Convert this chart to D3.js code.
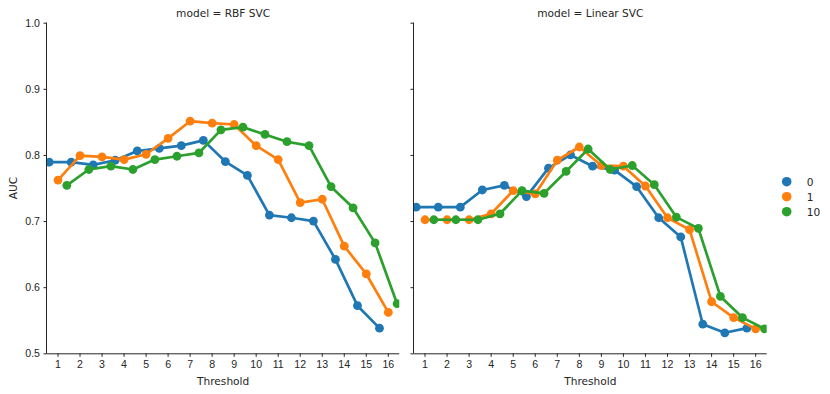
<!DOCTYPE html>
<html>
<head>
<meta charset="utf-8">
<script src="https://cdn.jsdelivr.net/npm/d3@7"></script>
<style>
  body { margin: 0; background: #fff; }
  svg { font-family: "DejaVu Sans", sans-serif; }
  .axis text { font-size: 10.6px; fill: #262626; }
  .axis path, .axis line { stroke: #262626; stroke-width: 1; }
</style>
</head>
<body>
<div class="container"></div>
<script>
// thresholds on the x axis
var thresholds = ["1","2","3","4","5","6","7","8","9","10","11","12","13","14","15","16"];
var hueLevels = ["0", "1", "10"];
var models = ["RBF SVC", "Linear SVC"];
var yTicks = [0.5, 0.6, 0.7, 0.8, 0.9, 1.0];

// AUC, RBF SVC
var rbf0  = [0.789,0.789,0.785,0.792,0.806,0.810,0.814,0.822,0.790,0.769,0.709,0.705,0.700,0.642,0.572,0.538];
var rbf1  = [0.762,0.799,0.797,0.793,0.801,0.825,0.851,0.848,0.846,0.814,0.793,0.728,0.733,0.662,0.620,0.562];
var rbf10 = [0.754,0.778,0.783,0.778,0.793,0.798,0.803,0.838,0.842,0.831,0.820,0.814,0.752,0.720,0.667,0.575];
// Linear SVC
var lin0  = [0.721,0.721,0.721,0.747,0.754,0.737,0.780,0.800,0.783,0.777,0.752,0.705,0.676,0.544,0.531,0.538];
var lin1  = [0.702,0.702,0.702,0.711,0.746,0.741,0.792,0.812,0.784,0.783,0.753,0.705,0.687,0.578,0.554,0.537];
var lin10 = [0.702,0.702,0.702,0.711,0.746,0.742,0.775,0.809,0.778,0.784,0.755,0.706,0.689,0.586,0.554,0.537];

var seriesByModel = [[rbf0, rbf1, rbf10], [lin0, lin1, lin10]];
var colors = ["#1f77b4", "#ff7f0e", "#2ca02c"];
var dodge = [-0.4, 0, 0.4];

var w = 830, h = 394;
var plotTop = 22.7, plotBottom = 353.3;
var panels = [[47, 399.3], [414, 766.7]];
var fs = 10.6;

var svg = d3.select(".container")
  .append("svg")
  .attr("width", w)
  .attr("height", h);

var yScale = d3.scaleLinear().domain([0.5, 1.0]).range([plotBottom, plotTop]);

panels.forEach(function(p, i) {
  var xScale = d3.scaleBand().domain(thresholds).range(p).padding(0);
  var bw = xScale.bandwidth();
  var g = svg.append("g");

  // clip to axes area like matplotlib
  svg.append("clipPath").attr("id", "clip" + i)
    .append("rect")
    .attr("x", p[0]).attr("y", plotTop)
    .attr("width", p[1] - p[0]).attr("height", plotBottom - plotTop);

  var plot = g.append("g").attr("clip-path", "url(#clip" + i + ")");

  seriesByModel[i].forEach(function(vals, k) {
    var pts = vals.map(function(v, j) {
      return { x: xScale(thresholds[j]) + bw / 2 + dodge[k] * bw, y: yScale(v) };
    });
    var line = d3.line().x(function(d) { return d.x; }).y(function(d) { return d.y; });
    plot.append("path")
      .datum(pts)
      .attr("d", line)
      .attr("fill", "none")
      .attr("stroke", colors[k])
      .attr("stroke-width", 2.7)
      .attr("stroke-linejoin", "round")
      .attr("stroke-linecap", "round");
    plot.selectAll(".pt" + k)
      .data(pts)
      .enter().append("circle")
      .attr("class", "pt" + k)
      .attr("cx", function(d) { return d.x; })
      .attr("cy", function(d) { return d.y; })
      .attr("r", 4.4)
      .attr("fill", colors[k]);
  });

  // x axis
  var xAxis = d3.axisBottom(xScale).tickSize(3.5).tickPadding(3.5).tickSizeOuter(0);
  var gx = g.append("g")
    .attr("class", "axis")
    .attr("transform", "translate(0," + plotBottom + ")")
    .call(xAxis);
  gx.select(".domain").attr("d", "M" + p[0] + ",0.5H" + p[1]);

  // y axis
  var yAxis = d3.axisLeft(yScale).tickValues(yTicks).tickSize(3.5).tickPadding(3.5).tickSizeOuter(0)
    .tickFormat(i == 0 ? d3.format(".1f") : function() { return ""; });
  var gy = g.append("g")
    .attr("class", "axis")
    .attr("transform", "translate(" + p[0] + ",0)")
    .call(yAxis);
  gy.select(".domain").attr("d", "M-0.5," + plotTop + "V" + plotBottom);

  // panel title
  g.append("text")
    .attr("x", (p[0] + p[1]) / 2)
    .attr("y", 16.7)
    .attr("text-anchor", "middle")
    .attr("font-size", fs)
    .attr("fill", "#262626")
    .text("model = " + models[i]);

  // x label
  g.append("text")
    .attr("x", (p[0] + p[1]) / 2)
    .attr("y", 384.5)
    .attr("text-anchor", "middle")
    .attr("font-size", fs)
    .attr("fill", "#262626")
    .text("Threshold");
});

// y label
svg.append("text")
  .attr("transform", "translate(16.5," + (plotTop + plotBottom) / 2 + ") rotate(-90)")
  .attr("text-anchor", "middle")
  .attr("font-size", fs)
  .attr("fill", "#262626")
  .text("AUC");

// legend
var legend = svg.append("g").selectAll("g")
  .data(hueLevels)
  .enter().append("g")
  .attr("transform", function(d, i) { return "translate(786.7," + (181.7 + i * 15) + ")"; });
legend.append("circle")
  .attr("r", 4.8)
  .attr("fill", function(d, i) { return colors[i]; });
legend.append("text")
  .attr("x", 20)
  .attr("y", 3.8)
  .attr("font-size", fs)
  .attr("fill", "#262626")
  .text(function(d) { return d; });
</script>
</body>
</html>
